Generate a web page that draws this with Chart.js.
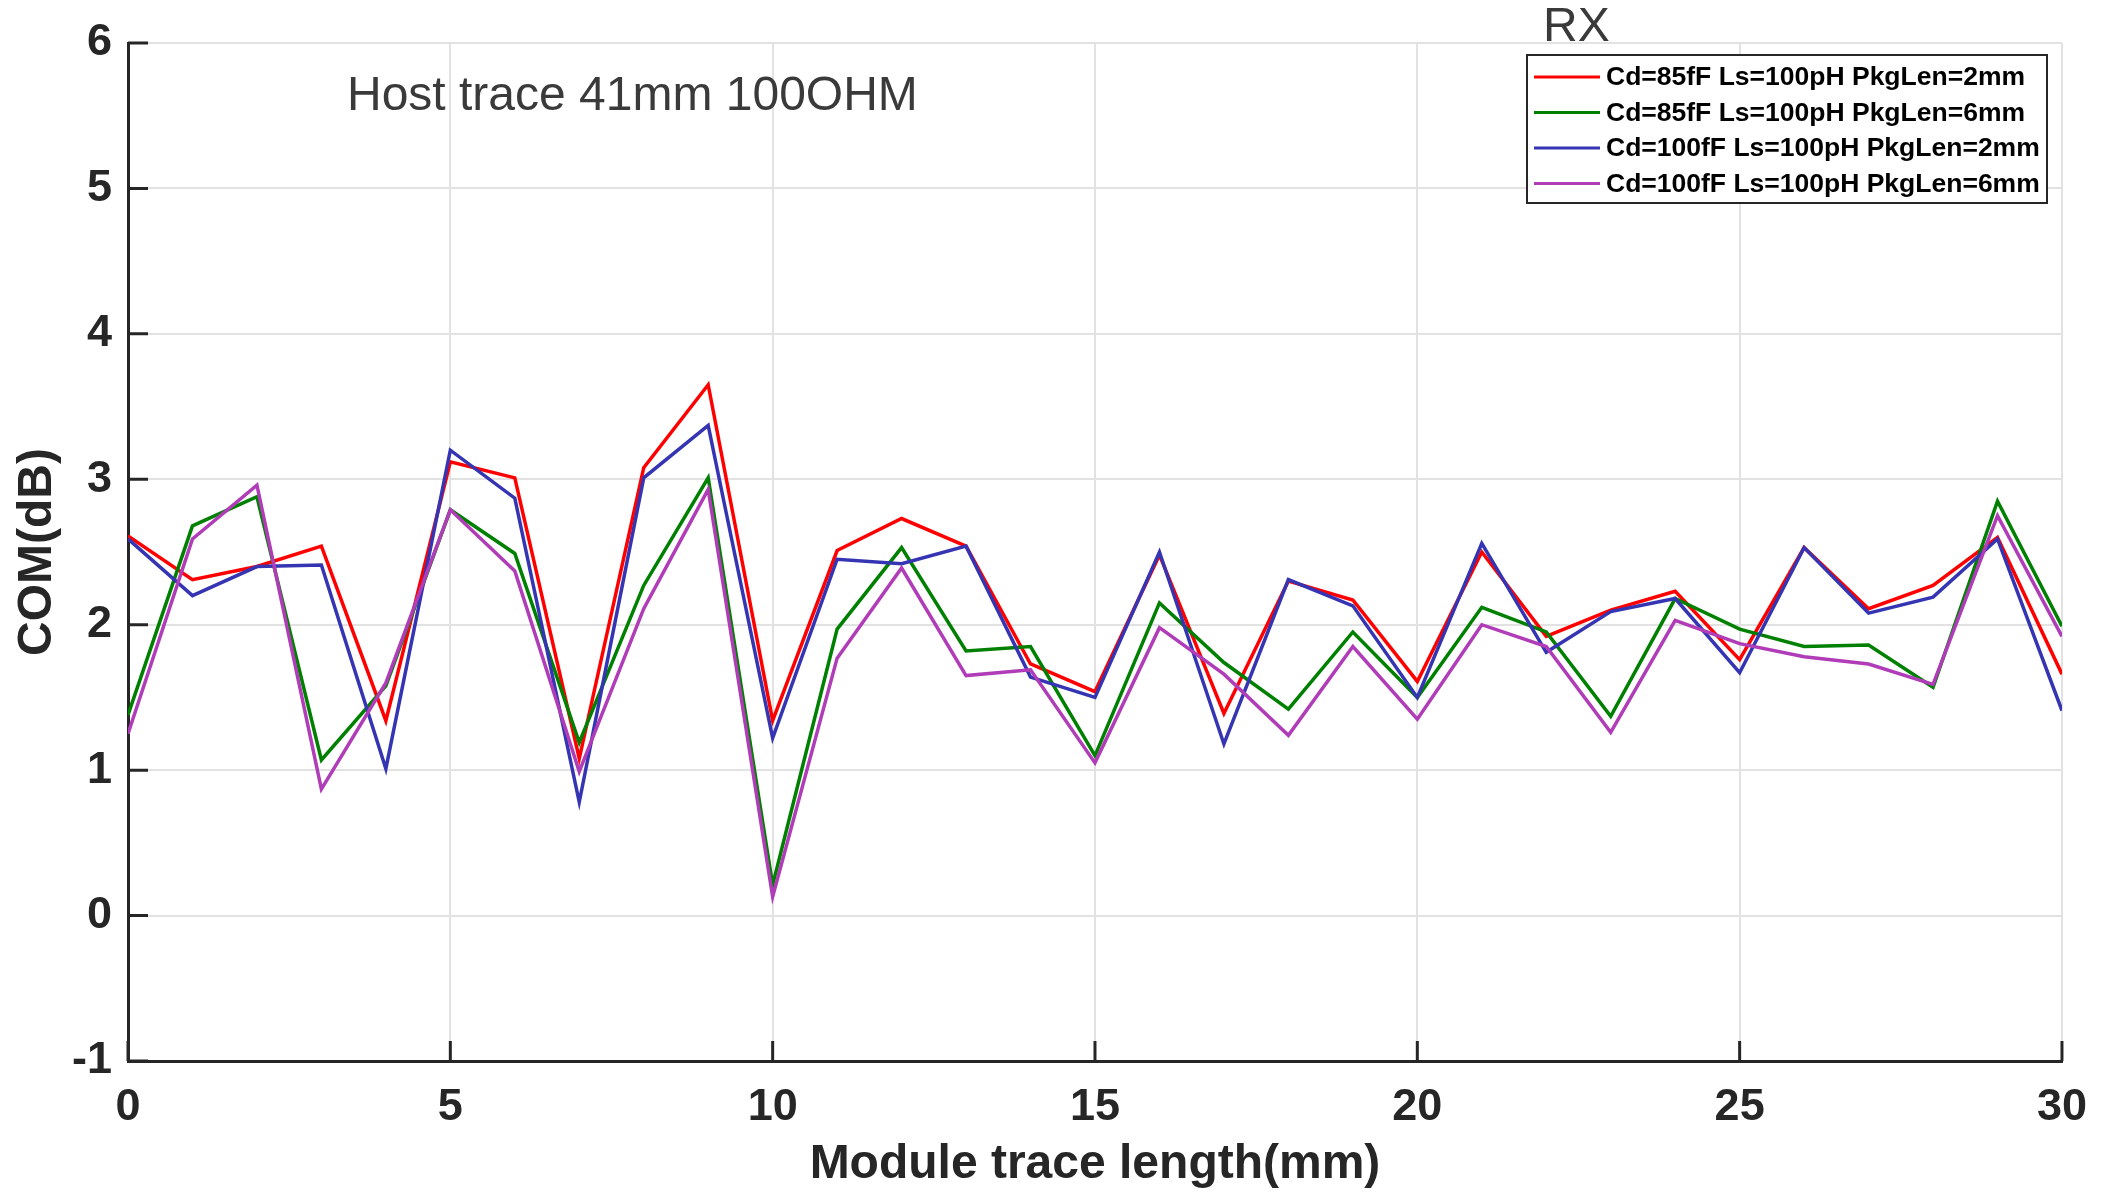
<!DOCTYPE html>
<html>
<head>
<meta charset="utf-8">
<title>RX COM vs module trace length</title>
<script src="https://cdn.jsdelivr.net/npm/chart.js@4.4.1/dist/chart.umd.min.js"></script>
<style>
  html, body { margin: 0; padding: 0; background: #ffffff; }
  #wrap { width: 2107px; height: 1196px; }
</style>
</head>
<body>
<div id="wrap"><canvas id="comChart" width="2107" height="1196"></canvas></div>
<script>
// module trace length (mm)
const traceLen = [0, 1, 2, 3, 4, 5, 6, 7, 8, 9, 10, 11, 12, 13, 14, 15, 16, 17, 18, 19, 20, 21, 22, 23, 24, 25, 26, 27, 28, 29, 30];

const cd85Pkg2 = [2.61, 2.31, 2.40, 2.54, 1.34, 3.12, 3.01, 1.08, 3.08, 3.65, 1.34, 2.51, 2.73, 2.54, 1.73, 1.54, 2.48, 1.39, 2.30, 2.17, 1.61, 2.50, 1.92, 2.10, 2.23, 1.76, 2.53, 2.11, 2.27, 2.60, 1.66];
const cd85Pkg6 = [1.38, 2.68, 2.88, 1.07, 1.58, 2.79, 2.49, 1.19, 2.27, 3.01, 0.21, 1.97, 2.53, 1.82, 1.85, 1.10, 2.15, 1.74, 1.42, 1.95, 1.50, 2.12, 1.95, 1.37, 2.18, 1.97, 1.85, 1.86, 1.57, 2.85, 1.99];
const cd100Pkg2 = [2.59, 2.20, 2.40, 2.41, 1.01, 3.20, 2.87, 0.78, 3.01, 3.37, 1.22, 2.45, 2.42, 2.54, 1.64, 1.50, 2.50, 1.18, 2.31, 2.13, 1.50, 2.56, 1.81, 2.09, 2.18, 1.67, 2.53, 2.08, 2.19, 2.59, 1.41];
const cd100Pkg6 = [1.25, 2.59, 2.96, 0.87, 1.60, 2.79, 2.37, 0.99, 2.11, 2.93, 0.13, 1.77, 2.39, 1.65, 1.69, 1.05, 1.98, 1.66, 1.24, 1.85, 1.35, 2.00, 1.85, 1.26, 2.03, 1.87, 1.78, 1.73, 1.59, 2.75, 1.92];

const seriesNames = [
  'Cd=85fF Ls=100pH PkgLen=2mm',
  'Cd=85fF Ls=100pH PkgLen=6mm',
  'Cd=100fF Ls=100pH PkgLen=2mm',
  'Cd=100fF Ls=100pH PkgLen=6mm'
];
const seriesColors = ['#ff0000', '#008000', '#3535b4', '#b03cb8'];

const xTicks = [0, 5, 10, 15, 20, 25, 30];
const yTicks = [-1, 0, 1, 2, 3, 4, 5, 6];

const axisColor = '#262626';
const gridColor = '#e2e2e2';

Chart.defaults.font.family = '"Liberation Sans", Arial, Helvetica, sans-serif';
Chart.defaults.color = axisColor;

function toPoints(values) {
  return values.map((v, i) => ({ x: traceLen[i], y: v }));
}

const allSeries = [cd85Pkg2, cd85Pkg6, cd100Pkg2, cd100Pkg6];
const datasets = allSeries.map((vals, i) => ({
  label: seriesNames[i],
  data: toPoints(vals),
  borderColor: seriesColors[i],
  backgroundColor: seriesColors[i],
  borderWidth: 3.5,
  pointRadius: 0,
  tension: 0,
  fill: false,
  order: allSeries.length - i   // later curves on top, like matlab
}));

// ticks pointing into the plot
const innerTicks = {
  id: 'innerTicks',
  afterDatasetsDraw(chart) {
    const ctx = chart.ctx;
    const area = chart.chartArea;
    const xs = chart.scales.x;
    const ys = chart.scales.y;
    const len = 20;
    ctx.save();
    ctx.strokeStyle = axisColor;
    ctx.lineWidth = 3;
    ctx.beginPath();
    for (const v of xTicks) {
      const px = xs.getPixelForValue(v);
      ctx.moveTo(px, area.bottom);
      ctx.lineTo(px, area.bottom - len);
    }
    for (const v of yTicks) {
      const py = ys.getPixelForValue(v);
      ctx.moveTo(area.left, py);
      ctx.lineTo(area.left + len, py);
    }
    ctx.stroke();
    ctx.restore();
  }
};

// legend box + the two text notes
const notesAndLegend = {
  id: 'notesAndLegend',
  afterDraw(chart) {
    const ctx = chart.ctx;
    ctx.save();

    ctx.fillStyle = '#3a3a3a';
    ctx.font = '48px "Liberation Sans", Arial, sans-serif';
    ctx.textAlign = 'left';
    ctx.textBaseline = 'middle';
    ctx.fillText('Host trace 41mm 100OHM', 347, 97);
    ctx.fillText('RX', 1543, 28);

    const box = { x: 1527, y: 55, w: 520, h: 148 };
    ctx.fillStyle = '#ffffff';
    ctx.fillRect(box.x, box.y, box.w, box.h);
    ctx.strokeStyle = axisColor;
    ctx.lineWidth = 2;
    ctx.strokeRect(box.x, box.y, box.w, box.h);

    ctx.font = 'bold 26.5px "Liberation Sans", Arial, sans-serif';
    chart.data.datasets.forEach((ds, i) => {
      const cy = 77 + i * 35.5;
      ctx.strokeStyle = ds.borderColor;
      ctx.lineWidth = 3;
      ctx.beginPath();
      ctx.moveTo(1534, cy);
      ctx.lineTo(1600, cy);
      ctx.stroke();
      ctx.fillStyle = '#000000';
      ctx.fillText(ds.label, 1606, cy + 1);
    });
    ctx.restore();
  }
};

const ctx = document.getElementById('comChart');
const comChart = new Chart(ctx, {
  type: 'line',
  data: { datasets: datasets },
  options: {
    responsive: false,
    devicePixelRatio: 1,
    animation: false,
    layout: { padding: { left: 0, top: 36, right: 43, bottom: 0 } },
    plugins: {
      legend: { display: false },
      tooltip: { enabled: false }
    },
    scales: {
      x: {
        type: 'linear',
        min: 0,
        max: 30,
        afterBuildTicks: (axis) => { axis.ticks = xTicks.map(v => ({ value: v })); },
        afterFit: (scale) => { scale.height = 135; },
        grid: { color: gridColor, lineWidth: 2, drawTicks: false },
        border: { display: true, color: axisColor, width: 3 },
        ticks: {
          padding: 20,
          color: axisColor,
          font: { size: 45, weight: 'bold' },
          maxRotation: 0
        },
        title: {
          display: true,
          text: 'Module trace length(mm)',
          color: axisColor,
          font: { size: 48, weight: 'bold' },
          padding: { top: 0, bottom: 2 }
        }
      },
      y: {
        type: 'linear',
        min: -1,
        max: 6,
        afterBuildTicks: (axis) => { axis.ticks = yTicks.map(v => ({ value: v })); },
        afterFit: (scale) => { scale.width = 128; },
        grid: { color: gridColor, lineWidth: 2, drawTicks: false },
        border: { display: true, color: axisColor, width: 3 },
        ticks: {
          padding: 16,
          color: axisColor,
          font: { size: 45, weight: 'bold' }
        },
        title: {
          display: true,
          text: 'COM(dB)',
          color: axisColor,
          font: { size: 48, weight: 'bold' },
          padding: { top: 9, bottom: 0 }
        }
      }
    }
  },
  plugins: [innerTicks, notesAndLegend]
});
console.log(comChart.chartArea);
</script>
</body>
</html>
